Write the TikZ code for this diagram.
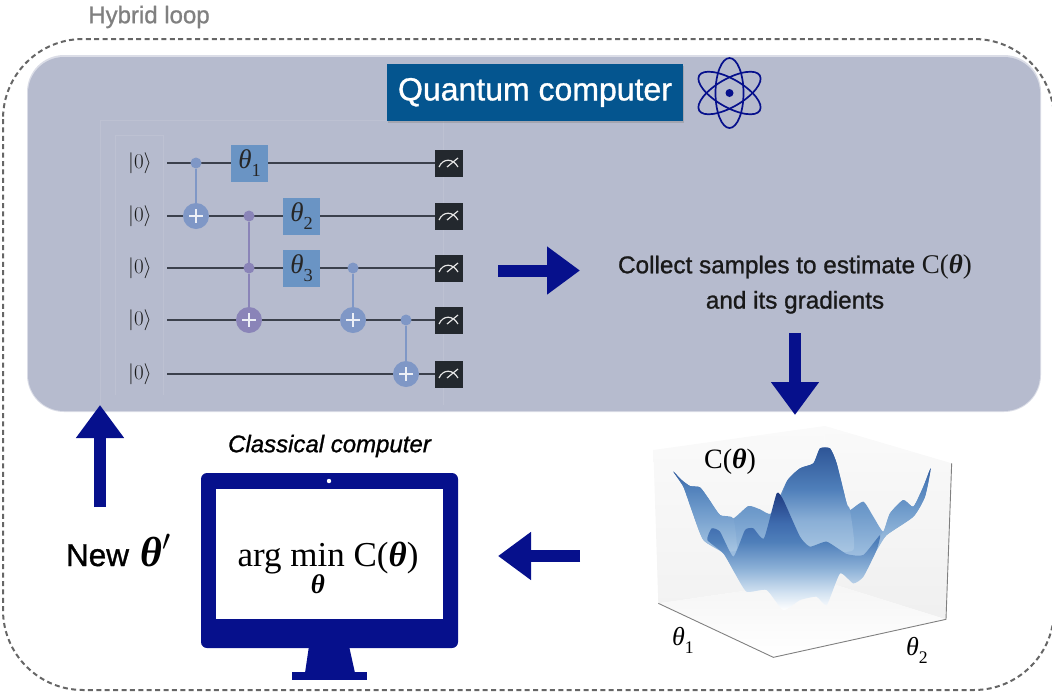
\documentclass[tikz,border=0pt]{standalone}
\usepackage{fix-cm}
\usepackage{amsmath}
\usepackage{fontspec}
\setmainfont{Liberation Sans}
\newfontfamily\tms{Liberation Serif}
\newfontfamily\med[FakeBold=1]{Liberation Sans}
\usetikzlibrary{arrows.meta,calc}
\definecolor{panel}{HTML}{B6BBCE}
\definecolor{navy}{HTML}{06108C}
\definecolor{qbox}{HTML}{04558F}
\definecolor{gateb}{HTML}{6A94C4}
\definecolor{cnotb}{HTML}{7F97C6}
\definecolor{cnotp}{HTML}{8A84B8}
\definecolor{wirec}{HTML}{3B404C}
\definecolor{measc}{HTML}{23282E}
\definecolor{sA}{HTML}{DCE8F4}
\definecolor{sB}{HTML}{9DBEDF}
\definecolor{sC}{HTML}{6F9BCB}
\definecolor{sD}{HTML}{3E6BAE}
\definecolor{sE}{HTML}{A7C5E2}
\definecolor{sF}{HTML}{8AAFD6}
\definecolor{sG}{HTML}{4F7FBA}
\definecolor{sH}{HTML}{2E5597}
\definecolor{sI}{HTML}{1F3A80}
\definecolor{sJ}{HTML}{CFE0F0}
\pgfdeclareverticalshading{surfbase}{100bp}{color(0bp)=(white);color(25bp)=(white);color(32bp)=(sA);color(42bp)=(sB);color(55bp)=(sC);color(75bp)=(sD);color(100bp)=(sD)}
\pgfdeclareverticalshading{surfback}{100bp}{color(0bp)=(sE);color(25bp)=(sE);color(40bp)=(sF);color(55bp)=(sG);color(75bp)=(sH);color(100bp)=(sH)}
\pgfdeclareverticalshading{surfside}{100bp}{color(0bp)=(sE);color(25bp)=(sE);color(50bp)=(sC);color(65bp)=(sG);color(75bp)=(sH);color(100bp)=(sH)}
\pgfdeclareverticalshading{surffront}{100bp}{color(0bp)=(white);color(25bp)=(white);color(33bp)=(sJ);color(43bp)=(sF);color(54bp)=(sG);color(62bp)=(sD);color(75bp)=(sI);color(100bp)=(sI)}
\newcommand{\thb}{{\tms\bfseries\itshape θ}}
\newcommand{\thsub}[1]{{\tms\itshape θ}\raisebox{-0.3em}{\tms\scalebox{0.68}{#1}}}
\tikzset{
  plain/.style={inner sep=0pt,outer sep=0pt},
  wire/.style={draw=wirec,line width=1.8pt},
  ket/.style={plain,font=\fontsize{21}{21}\selectfont,text=black!90},
  meas/.style={plain,fill=measc,minimum width=28pt,minimum height=27pt},
  gate/.style={plain,fill=gateb,minimum width=37pt,minimum height=37pt,font=\fontsize{27}{27}\selectfont,text=black!85},
  bigarrow/.style={draw=navy,line width=12pt,-{Triangle[length=33pt,width=46pt]}},
  cx/.style={line width=2pt,draw=#1},
  dot/.style={circle,plain,fill=#1,minimum size=11pt},
  target/.style={circle,plain,fill=#1,minimum size=26pt}
}
\begin{document}
\begin{tikzpicture}[x=1pt,y=-1pt]
\useasboundingbox (0,0) rectangle (1052,694);
\begin{scope}
\clip (0,0) rectangle (1052,694);
% quantum panel
\fill[panel!50!white,rounded corners=37pt] (27,55) rectangle (1041,412);
\fill[panel,rounded corners=36pt] (28,57) rectangle (1040,411);
\draw[white,opacity=.1,line width=.8pt] (100,405) -- (100,120) -- (443,120) -- (443,405);
\draw[white,opacity=.1,line width=.8pt] (115,395) -- (115,135) -- (163,135) -- (163,395);
% hybrid loop
\draw[black!60,line width=2pt,dash pattern=on 5pt off 3.4pt,rounded corners=80pt] (3,39) rectangle (1054,690);
\end{scope}
\node[plain,font=\med\fontsize{24}{24}\selectfont,text=black!50] (hybrid) at (149,17) {Hybrid loop};
% title box
\fill[black!45,opacity=.45] (388,66) rectangle (684,123);
\node[plain,fill=qbox,text=white,minimum width=296pt,minimum height=57pt,font=\med\fontsize{32}{32}\selectfont] (qc) at (535,92.5) {Quantum computer};
% atom
\node[plain,minimum size=1pt] (atom) at (729.5,93) {};
\foreach \a in {90,30,-30}{
  \draw[navy,line width=1.7pt,rotate around={\a:(atom)}] (atom) ellipse (35pt and 14pt);
}
\fill[navy] (atom) circle (4pt);
% circuit wires
\foreach \i/\y in {1/163,2/216,3/268,4/320,5/374}{
  \node[ket] (q\i) at (140,\y) {$|0\rangle$};
  \coordinate (w\i) at (167,\y);
  \node[meas] (m\i) at (449,\y) {};
  \draw[wire] (w\i) -- (m\i);
  \draw[white!90!black,line width=1.2pt] ($(m\i)+(-10,4)$) .. controls ($(m\i)+(-6,-5)$) and ($(m\i)+(4,-5)$) .. ($(m\i)+(9,4)$);
  \draw[white!90!black,line width=1.2pt] ($(m\i)+(-2,4)$) -- ($(m\i)+(9,-5)$);
}
% gates
\node[gate] (g1) at (249.5,163.5) {\thsub{1}};
\node[gate] (g2) at (301.5,216) {\thsub{2}};
\node[gate] (g3) at (301.5,268.5) {\thsub{3}};
% CNOTs
\node[dot=cnotb] (c1) at (196,163) {};
\node[target=cnotb] (t1) at (196,216) {};
\node[dot=cnotp] (c2) at (249,216) {};
\node[dot=cnotp] (c2b) at (249,268) {};
\node[target=cnotp] (t2) at (249,320) {};
\node[dot=cnotb] (c3) at (353,268) {};
\node[target=cnotb] (t3) at (353,320) {};
\node[dot=cnotb] (c4) at (406,320) {};
\node[target=cnotb] (t4) at (406,374) {};
\draw[cx=cnotb] (c1) -- (t1);
\draw[cx=cnotp] (c2) -- (c2b);
\draw[cx=cnotp] (c2b) -- (t2);
\draw[cx=cnotb] (c3) -- (t3);
\draw[cx=cnotb] (c4) -- (t4);
\foreach \t in {t1,t2,t3,t4}{
  \draw[white!85!cnotb,line width=1.8pt] ($(\t)+(-7,0)$) -- ($(\t)+(7,0)$);
  \draw[white!85!cnotb,line width=1.8pt] ($(\t)+(0,-7)$) -- ($(\t)+(0,7)$);
}
% collect text
\node[plain,font=\med\fontsize{24.3}{24.3}\selectfont,text=black!90,align=center] (collect) at (795,284) {Collect samples to estimate {\tms\fontsize{27}{27}\selectfont C(\thb)}\\[11pt] and its gradients};
% arrows
\coordinate (a1s) at (498,270.5); \coordinate (a1e) at (580,270.5);
\draw[bigarrow] (a1s) -- (a1e);
\coordinate (a2s) at (795,333); \coordinate (a2e) at (795,415);
\draw[bigarrow] (a2s) -- (a2e);
\coordinate (a3s) at (580,556); \coordinate (a3e) at (498,556);
\draw[bigarrow] (a3s) -- (a3e);
\coordinate (a4s) at (100,507); \coordinate (a4e) at (100,405);
\draw[bigarrow] (a4s) -- (a4e);
% new theta
\node[plain,font=\med\fontsize{31.5}{31.5}\selectfont,anchor=base west] (newt) at (66,566) {New\hspace{.36em}\fontsize{42}{42}\selectfont\thb\hspace{.02em}$'$};
% classical
\node[plain,font=\med\fontsize{24}{24}\selectfont\itshape] (cc) at (329.5,446) {Classical computer};
\fill[navy,rounded corners=6pt] (201,473) rectangle (458,648);
\fill[navy] (309,646) -- (349,646) -- (355,673) -- (305,673) -- cycle;
\fill[navy] (292,671.5) rectangle (367,680);
\fill[white] (216,489) rectangle (443,619);
\fill[white] (329,481) circle (2.2pt);
\node[plain,font=\tms\fontsize{35}{35}\selectfont,anchor=base] (argm) at (328,566) {arg min C(\thb)};
\node[plain,font=\fontsize{27}{27}\selectfont] (argt) at (318,584) {\thb};
% landscape
\begin{scope}[shift={(620,410)},x=.33333pt,y=-.33333pt]
  \fill[white] (100,120) -- (615,48) -- (995,160) -- (978,628) -- (460,742) -- (115,580) -- cycle;
  \shade[top color=white!98!black,bottom color=black!5] (100,120) -- (615,48) -- (600,510) -- (115,580) -- cycle;
  \shade[top color=white!98!black,bottom color=black!6] (615,48) -- (995,160) -- (978,628) -- (600,510) -- cycle;
  \shade[top color=black!4,bottom color=white] (115,580) -- (600,510) -- (978,628) -- (460,742) -- cycle;
  \draw[black!50,line width=.9pt] (115,580) -- (460,742) -- (978,628) -- (995,160);
  % full surface
  \begin{scope}
    \clip plot[smooth cycle,tension=.35] coordinates {(160,185)(185,210)(210,228)(240,232)(265,265)(300,315)(340,325)(385,288)(420,298)(455,310)(500,215)(540,175)(580,160)(600,115)(630,115)(650,160)(680,280)(690,300)(730,275)(760,320)(790,365)(810,310)(850,270)(880,290)(910,230)(932,175)(915,260)(880,320)(800,375)(770,420)(730,500)(700,520)(660,490)(620,585)(590,560)(540,570)(490,600)(440,540)(380,545)(345,490)(310,430)(250,390)(215,300)(190,230)};
    \shade[shading=surfbase] (100,115) rectangle (1000,600);
  \end{scope}
  % back hill
  \begin{scope}
    \clip plot[smooth cycle,tension=.35] coordinates {(470,330)(500,215)(540,175)(580,160)(600,115)(630,115)(650,160)(680,280)(690,300)(700,420)(600,420)(520,400)};
    \shade[shading=surfback] (400,112) rectangle (750,425);
  \end{scope}
  % left side
  \begin{scope}
    \clip plot[smooth cycle,tension=.35] coordinates {(160,185)(185,210)(210,228)(240,232)(265,265)(300,315)(340,325)(350,420)(310,420)(250,390)(215,300)(190,230)};
    \shade[shading=surfside] (150,180) rectangle (360,425);
  \end{scope}
  % right side
  \begin{scope}
    \clip plot[smooth cycle,tension=.35] coordinates {(932,175)(915,260)(880,320)(800,375)(770,420)(760,400)(790,365)(810,310)(850,270)(880,290)(910,230)};
    \shade[shading=surfside] (750,170) rectangle (940,425);
  \end{scope}
  % front ridge
  \begin{scope}
    \clip plot[smooth cycle,tension=.3] coordinates {(275,355)(300,365)(340,440)(375,360)(400,355)(432,385)(470,250)(490,270)(540,380)(570,410)(620,395)(680,432)(730,435)(780,375)(770,420)(730,500)(700,520)(660,490)(620,585)(590,560)(540,570)(490,600)(440,540)(380,545)(345,490)(310,430)(262,390)};
    \shade[shading=surffront] (250,248) rectangle (800,600);
  \end{scope}
\end{scope}
\node[plain,font=\tms\fontsize{28}{28}\selectfont] (ct) at (730,462) {C(\thb)};
\node[plain,font=\tms\fontsize{26}{26}\selectfont] (th1) at (683,640) {\thsub{1}};
\node[plain,font=\tms\fontsize{26}{26}\selectfont] (th2) at (917,650) {\thsub{2}};
\end{tikzpicture}
\end{document}
